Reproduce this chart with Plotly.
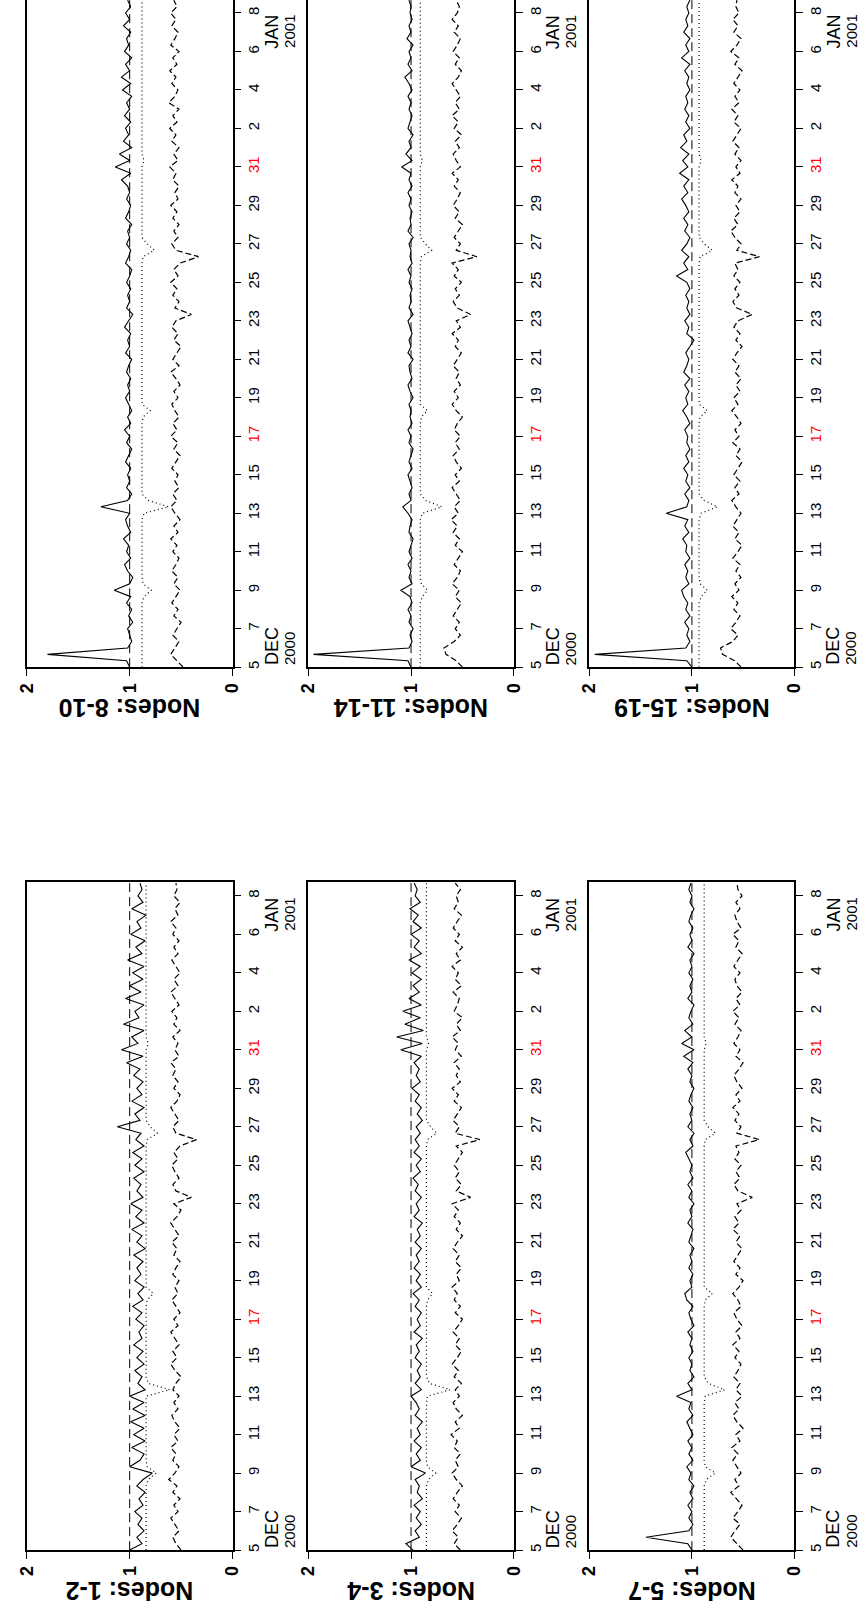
import plotly.graph_objects as go
import pandas as pd

# ---------------- data ----------------
# samples every 8 hours from 5 Dec 2000 00:00 (105 samples)
times = pd.date_range("2000-12-05 00:00", periods=105, freq="8h")

panel_titles = ["Nodes: 1-2", "Nodes: 3-4", "Nodes: 5-7",
                "Nodes: 8-10", "Nodes: 11-14", "Nodes: 15-19"]

ref_value = 1.0

tick_dates = ["2000-12-05", "2000-12-07", "2000-12-09", "2000-12-11", "2000-12-13",
              "2000-12-15", "2000-12-17", "2000-12-19", "2000-12-21", "2000-12-23",
              "2000-12-25", "2000-12-27", "2000-12-29", "2000-12-31", "2001-01-02",
              "2001-01-04", "2001-01-06", "2001-01-08"]
tick_labels = ["5", "7", "9", "11", "13", "15", "17", "19", "21", "23", "25", "27",
               "29", "31", "2", "4", "6", "8"]
red_labels = ["17", "31"]
value_ticks = [0, 1, 2]

# Nodes 1-2
p1_solid = [1.00,0.88,0.93,0.86,0.92,0.88,0.95,0.87,0.91,0.85,0.93,0.87,0.78,1.00,0.90,
            0.86,0.98,0.85,0.96,0.86,0.99,0.85,0.97,0.86,1.00,0.85,0.92,0.88,0.95,0.86,
            0.93,0.87,0.96,0.88,0.91,0.86,0.94,0.88,0.97,0.87,0.92,0.86,0.95,0.89,0.93,
            0.87,0.96,0.85,0.93,0.88,0.98,0.86,0.94,0.88,0.99,0.87,0.93,0.89,0.96,0.86,
            0.95,0.88,0.97,0.86,0.94,0.89,1.12,0.90,0.95,0.86,0.98,0.88,0.93,0.87,0.96,
            0.90,1.03,0.87,1.08,0.92,0.98,0.86,1.06,0.91,0.95,0.86,1.04,0.89,1.00,0.87,
            0.97,0.86,1.02,0.88,0.94,0.85,0.99,0.89,0.93,0.84,0.98,0.87,0.92,0.88,0.90]
p1_dot = [0.84,0.84,0.84,0.84,0.84,0.84,0.84,0.84,0.84,0.84,0.84,0.82,0.74,0.83,0.84,
          0.84,0.84,0.84,0.84,0.84,0.84,0.84,0.84,0.84,0.84,0.61,0.82,0.84,0.84,0.84,
          0.84,0.84,0.84,0.84,0.84,0.84,0.84,0.84,0.84,0.83,0.77,0.84,0.84,0.84,0.84,
          0.84,0.84,0.84,0.84,0.84,0.84,0.84,0.84,0.84,0.84,0.84,0.84,0.84,0.84,0.84,
          0.84,0.84,0.84,0.84,0.83,0.73,0.80,0.84,0.84,0.84,0.84,0.84,0.84,0.84,0.84,
          0.84,0.84,0.84,0.84,0.82,0.84,0.84,0.84,0.84,0.84,0.84,0.84,0.84,0.84,0.84,
          0.84,0.84,0.84,0.84,0.84,0.84,0.84,0.84,0.84,0.84,0.84,0.84,0.84,0.84,0.84]
p1_dash = [0.50,0.55,0.58,0.52,0.56,0.60,0.53,0.57,0.51,0.58,0.54,0.62,0.56,0.52,0.58,
           0.55,0.60,0.53,0.57,0.51,0.56,0.59,0.53,0.57,0.52,0.58,0.55,0.50,0.56,0.60,
           0.54,0.58,0.52,0.56,0.60,0.53,0.57,0.51,0.55,0.59,0.53,0.56,0.52,0.58,0.55,
           0.51,0.57,0.54,0.59,0.52,0.56,0.60,0.54,0.50,0.57,0.40,0.55,0.58,0.52,0.56,
           0.59,0.53,0.57,0.51,0.35,0.55,0.58,0.52,0.56,0.60,0.54,0.51,0.57,0.53,0.58,
           0.55,0.60,0.52,0.56,0.53,0.58,0.51,0.57,0.54,0.59,0.52,0.56,0.60,0.53,0.57,
           0.51,0.55,0.59,0.53,0.57,0.52,0.58,0.55,0.60,0.53,0.56,0.51,0.57,0.54,0.55]

# Nodes 3-4
p2_solid = [0.98,1.05,0.92,0.96,0.90,0.95,0.91,0.97,0.89,0.94,0.92,0.96,0.86,1.00,0.91,
            0.95,0.90,0.97,0.91,0.94,0.89,0.96,0.92,0.95,1.00,0.90,0.96,0.91,0.94,0.90,
            0.96,0.92,0.95,0.89,0.97,0.91,0.94,0.90,0.96,0.92,0.98,0.90,0.95,0.91,0.97,
            0.92,0.95,0.90,0.96,0.91,0.94,0.89,0.97,0.92,0.95,0.90,0.96,0.93,0.98,0.91,
            0.95,0.90,0.97,0.92,0.96,0.91,0.95,0.89,0.94,0.90,0.96,0.92,0.99,0.91,0.95,
            0.92,0.97,0.90,1.10,0.89,1.14,0.88,1.06,0.91,1.08,0.90,1.02,0.92,0.98,0.90,
            0.99,0.91,1.02,0.90,0.97,0.92,1.00,0.90,0.98,0.93,1.01,0.91,0.96,0.94,0.97]
p2_dot = [0.85,0.85,0.85,0.85,0.85,0.85,0.85,0.85,0.85,0.85,0.85,0.83,0.76,0.84,0.85,
          0.85,0.85,0.85,0.85,0.85,0.85,0.85,0.85,0.85,0.84,0.62,0.82,0.85,0.85,0.85,
          0.85,0.85,0.85,0.85,0.85,0.85,0.85,0.85,0.85,0.84,0.79,0.85,0.85,0.85,0.85,
          0.85,0.85,0.85,0.85,0.85,0.85,0.85,0.85,0.85,0.85,0.85,0.85,0.85,0.85,0.85,
          0.85,0.85,0.85,0.85,0.84,0.75,0.81,0.85,0.85,0.85,0.85,0.85,0.85,0.85,0.85,
          0.85,0.85,0.85,0.85,0.83,0.85,0.85,0.85,0.85,0.85,0.85,0.85,0.85,0.85,0.85,
          0.85,0.85,0.85,0.85,0.85,0.85,0.85,0.85,0.85,0.85,0.85,0.85,0.85,0.85,0.85]
p2_dash = [0.52,0.58,0.54,0.60,0.55,0.51,0.57,0.53,0.59,0.55,0.50,0.56,0.60,0.54,0.57,
           0.52,0.58,0.55,0.61,0.53,0.57,0.50,0.56,0.59,0.53,0.57,0.51,0.58,0.54,0.60,
           0.55,0.51,0.57,0.53,0.59,0.54,0.50,0.57,0.52,0.58,0.55,0.60,0.53,0.56,0.51,
           0.57,0.53,0.59,0.55,0.50,0.56,0.52,0.58,0.54,0.60,0.42,0.56,0.51,0.57,0.53,
           0.58,0.54,0.50,0.56,0.33,0.57,0.53,0.59,0.55,0.51,0.58,0.54,0.60,0.52,0.56,
           0.53,0.58,0.51,0.57,0.54,0.60,0.52,0.56,0.50,0.58,0.55,0.53,0.59,0.51,0.57,
           0.54,0.60,0.52,0.56,0.50,0.57,0.53,0.59,0.55,0.51,0.58,0.54,0.56,0.52,0.57]

# Nodes 5-7
p3_solid = [1.00,1.04,1.45,1.03,0.99,1.03,1.00,1.04,0.99,1.02,0.98,1.03,1.01,1.05,0.99,
            1.03,1.00,1.04,0.99,1.02,1.05,0.99,1.03,1.01,1.15,1.00,1.04,0.98,1.02,1.00,
            1.03,0.99,1.02,1.00,1.04,0.98,1.01,1.03,0.99,1.05,1.07,1.00,1.02,0.99,1.03,
            1.00,1.02,0.98,1.03,1.01,0.99,1.04,1.00,1.02,0.98,1.03,1.00,1.04,0.99,1.02,
            1.00,1.03,1.06,0.99,1.02,0.98,1.04,1.00,1.02,0.99,1.03,1.01,0.98,1.02,1.00,
            1.04,0.99,1.08,0.98,1.10,1.00,1.07,0.99,1.03,1.01,0.98,1.04,1.00,1.02,0.99,
            1.03,1.00,1.02,0.98,1.04,1.00,1.02,0.99,1.03,1.01,0.98,1.02,1.00,1.03,1.01]
p3_dot = [0.88,0.88,0.88,0.88,0.88,0.88,0.88,0.88,0.88,0.88,0.88,0.86,0.77,0.87,0.88,
          0.88,0.88,0.88,0.88,0.88,0.88,0.88,0.88,0.88,0.87,0.68,0.84,0.88,0.88,0.88,
          0.88,0.88,0.88,0.88,0.88,0.88,0.88,0.88,0.88,0.87,0.80,0.88,0.88,0.88,0.88,
          0.88,0.88,0.88,0.88,0.88,0.88,0.88,0.88,0.88,0.88,0.88,0.88,0.88,0.88,0.88,
          0.88,0.88,0.88,0.88,0.87,0.77,0.84,0.88,0.88,0.88,0.88,0.88,0.88,0.88,0.88,
          0.88,0.88,0.88,0.88,0.86,0.88,0.88,0.88,0.88,0.88,0.88,0.88,0.88,0.88,0.88,
          0.88,0.88,0.88,0.88,0.88,0.88,0.88,0.88,0.88,0.88,0.88,0.88,0.88,0.88,0.88]
p3_dash = [0.50,0.56,0.62,0.58,0.53,0.60,0.55,0.51,0.57,0.62,0.54,0.58,0.52,0.56,0.60,
           0.55,0.61,0.53,0.57,0.50,0.56,0.60,0.54,0.58,0.51,0.57,0.53,0.59,0.55,0.52,
           0.58,0.54,0.60,0.53,0.57,0.51,0.56,0.59,0.52,0.55,0.60,0.54,0.50,0.57,0.53,
           0.59,0.55,0.51,0.57,0.53,0.60,0.54,0.58,0.52,0.56,0.41,0.55,0.59,0.53,0.57,
           0.52,0.58,0.54,0.57,0.34,0.56,0.52,0.58,0.54,0.60,0.53,0.57,0.51,0.56,0.59,
           0.54,0.50,0.57,0.53,0.59,0.55,0.52,0.58,0.54,0.60,0.53,0.57,0.51,0.56,0.58,
           0.53,0.59,0.55,0.51,0.57,0.54,0.60,0.52,0.56,0.58,0.53,0.57,0.51,0.55,0.56]

# Nodes 8-10
p4_solid = [1.00,1.03,1.80,1.02,0.98,1.00,1.02,0.97,1.01,0.98,1.03,0.99,1.15,1.00,0.97,
            1.02,1.05,0.99,1.03,1.01,1.06,0.99,1.02,1.04,1.00,1.28,1.02,0.98,1.03,1.00,
            1.02,0.99,1.04,1.01,0.98,1.03,1.00,1.05,0.99,1.02,0.98,1.01,1.04,1.00,1.02,
            0.99,1.03,1.01,0.98,1.04,1.00,1.02,0.99,1.05,1.01,0.97,1.03,1.00,1.02,0.99,
            1.03,1.00,0.98,1.04,1.01,0.99,1.03,1.00,1.02,0.98,1.04,1.01,0.99,1.03,1.00,
            1.02,1.08,0.99,1.14,1.00,1.10,0.98,1.06,1.01,1.04,0.99,1.05,1.00,1.03,0.98,
            1.07,0.99,1.08,1.00,1.04,0.98,1.05,1.01,1.03,0.99,1.06,1.00,1.04,0.99,1.02]
p4_dot = [0.88,0.88,0.88,0.88,0.88,0.88,0.88,0.88,0.88,0.88,0.88,0.86,0.79,0.87,0.88,
          0.88,0.88,0.88,0.88,0.88,0.88,0.88,0.88,0.88,0.86,0.62,0.82,0.88,0.88,0.88,
          0.88,0.88,0.88,0.88,0.88,0.88,0.88,0.88,0.88,0.87,0.80,0.88,0.88,0.88,0.88,
          0.88,0.88,0.88,0.88,0.88,0.88,0.88,0.88,0.88,0.88,0.88,0.88,0.88,0.88,0.88,
          0.88,0.88,0.88,0.88,0.87,0.76,0.83,0.88,0.88,0.88,0.88,0.88,0.88,0.88,0.88,
          0.88,0.88,0.88,0.88,0.86,0.88,0.88,0.88,0.88,0.88,0.88,0.88,0.88,0.88,0.88,
          0.88,0.88,0.88,0.88,0.88,0.88,0.88,0.88,0.88,0.88,0.88,0.88,0.88,0.88,0.88]
p4_dash = [0.48,0.54,0.60,0.56,0.52,0.58,0.54,0.50,0.57,0.53,0.59,0.55,0.51,0.57,0.53,
           0.59,0.55,0.52,0.58,0.54,0.60,0.53,0.57,0.51,0.56,0.60,0.54,0.58,0.52,0.56,
           0.53,0.59,0.55,0.51,0.57,0.53,0.60,0.54,0.58,0.52,0.56,0.59,0.53,0.57,0.51,
           0.55,0.60,0.52,0.58,0.54,0.50,0.57,0.53,0.59,0.55,0.40,0.56,0.52,0.58,0.54,
           0.60,0.53,0.57,0.51,0.33,0.55,0.59,0.53,0.57,0.52,0.58,0.54,0.60,0.53,0.56,
           0.52,0.58,0.55,0.61,0.53,0.57,0.52,0.59,0.55,0.61,0.54,0.58,0.52,0.62,0.56,
           0.53,0.59,0.55,0.61,0.54,0.58,0.52,0.60,0.56,0.53,0.59,0.55,0.60,0.54,0.57]

# Nodes 11-14
p5_solid = [1.00,1.03,1.95,1.02,0.99,1.01,0.98,1.02,1.00,1.03,0.99,1.01,1.10,0.99,1.02,
            1.00,1.03,0.99,1.02,1.00,0.98,1.02,1.01,0.99,1.03,1.08,1.00,1.02,0.99,1.01,
            1.03,0.99,1.02,1.00,0.98,1.02,1.00,1.03,0.99,1.01,1.00,1.02,0.98,1.01,1.03,
            0.99,1.01,1.02,0.98,1.03,1.00,1.02,0.99,1.01,1.03,0.98,1.02,1.00,1.01,0.99,
            1.02,1.00,1.03,0.99,1.01,1.00,1.02,0.98,1.03,1.00,1.01,0.99,1.02,1.00,1.03,
            0.99,1.02,1.00,1.09,0.99,1.05,1.00,1.02,0.98,1.03,1.01,0.99,1.02,1.00,1.03,
            0.99,1.02,1.06,0.99,1.03,1.00,1.02,0.98,1.04,1.00,1.02,0.99,1.01,1.00,1.02]
p5_dot = [0.91,0.91,0.91,0.91,0.91,0.91,0.91,0.91,0.91,0.91,0.91,0.89,0.84,0.90,0.91,
          0.91,0.91,0.91,0.91,0.91,0.91,0.91,0.91,0.91,0.89,0.70,0.86,0.91,0.91,0.91,
          0.91,0.91,0.91,0.91,0.91,0.91,0.91,0.91,0.91,0.90,0.84,0.91,0.91,0.91,0.91,
          0.91,0.91,0.91,0.91,0.91,0.91,0.91,0.91,0.91,0.91,0.91,0.91,0.91,0.91,0.91,
          0.91,0.91,0.91,0.91,0.90,0.80,0.86,0.91,0.91,0.91,0.91,0.91,0.91,0.91,0.91,
          0.91,0.91,0.91,0.91,0.89,0.91,0.91,0.91,0.91,0.91,0.91,0.91,0.91,0.91,0.91,
          0.91,0.91,0.91,0.91,0.91,0.91,0.91,0.91,0.91,0.91,0.91,0.91,0.91,0.91,0.91]
p5_dash = [0.50,0.56,0.66,0.68,0.58,0.52,0.57,0.53,0.59,0.55,0.51,0.57,0.53,0.60,0.55,
           0.52,0.58,0.54,0.50,0.57,0.53,0.59,0.55,0.61,0.54,0.58,0.52,0.56,0.60,0.53,
           0.57,0.51,0.56,0.59,0.53,0.57,0.52,0.58,0.55,0.50,0.56,0.60,0.54,0.58,0.52,
           0.56,0.53,0.59,0.55,0.51,0.57,0.54,0.60,0.52,0.56,0.42,0.55,0.59,0.53,0.57,
           0.51,0.58,0.54,0.60,0.36,0.56,0.52,0.58,0.54,0.50,0.57,0.53,0.59,0.55,0.52,
           0.58,0.54,0.60,0.52,0.56,0.59,0.53,0.57,0.51,0.58,0.54,0.60,0.53,0.57,0.52,
           0.56,0.60,0.54,0.51,0.57,0.53,0.59,0.55,0.52,0.58,0.54,0.60,0.55,0.53,0.56]

# Nodes 15-19
p6_solid = [1.00,1.05,1.95,1.06,1.02,1.05,1.03,1.07,1.02,1.06,1.04,1.08,1.10,1.03,1.06,
            1.04,1.07,1.02,1.06,1.05,1.09,1.03,1.07,1.04,1.25,1.05,1.03,1.07,1.02,1.06,
            1.04,1.08,1.03,1.06,1.02,1.05,1.04,1.07,1.02,1.05,1.09,1.04,1.06,1.03,1.07,
            1.02,1.08,1.05,1.03,1.06,1.02,0.98,1.05,1.03,1.07,1.02,1.05,1.03,1.06,1.02,
            1.05,1.15,1.04,1.08,1.03,1.10,1.05,1.02,1.07,1.04,1.08,1.03,1.06,1.10,1.04,
            1.08,1.03,1.12,1.04,1.09,1.03,1.11,1.05,1.08,1.02,1.06,1.03,1.07,1.04,1.06,
            1.02,1.05,1.03,1.07,1.02,1.10,1.03,1.06,1.02,1.08,1.04,1.06,1.03,1.05,1.02]
p6_dot = [0.93,0.93,0.93,0.93,0.93,0.93,0.93,0.93,0.93,0.93,0.93,0.91,0.85,0.92,0.93,
          0.93,0.93,0.93,0.93,0.93,0.93,0.93,0.93,0.93,0.91,0.75,0.88,0.93,0.93,0.93,
          0.93,0.93,0.93,0.93,0.93,0.93,0.93,0.93,0.93,0.92,0.85,0.93,0.93,0.93,0.93,
          0.93,0.93,0.93,0.93,0.93,0.93,0.93,0.93,0.93,0.93,0.93,0.93,0.93,0.93,0.93,
          0.93,0.93,0.93,0.93,0.92,0.80,0.88,0.93,0.93,0.93,0.93,0.93,0.93,0.93,0.93,
          0.93,0.93,0.93,0.93,0.91,0.93,0.93,0.93,0.93,0.93,0.93,0.93,0.93,0.93,0.93,
          0.93,0.93,0.93,0.93,0.93,0.93,0.93,0.93,0.93,0.93,0.93,0.93,0.93,0.93,0.93]
p6_dash = [0.52,0.58,0.70,0.72,0.60,0.55,0.62,0.57,0.53,0.59,0.55,0.61,0.54,0.58,0.52,
           0.57,0.53,0.60,0.55,0.51,0.58,0.54,0.60,0.56,0.52,0.57,0.61,0.54,0.58,0.53,
           0.59,0.55,0.51,0.57,0.53,0.60,0.54,0.58,0.52,0.56,0.61,0.55,0.59,0.53,0.57,
           0.52,0.58,0.54,0.60,0.56,0.51,0.57,0.53,0.59,0.55,0.41,0.56,0.60,0.54,0.58,
           0.53,0.59,0.55,0.58,0.34,0.56,0.52,0.58,0.62,0.55,0.59,0.53,0.57,0.52,0.58,
           0.55,0.61,0.53,0.57,0.52,0.58,0.54,0.60,0.56,0.52,0.59,0.55,0.61,0.54,0.58,
           0.53,0.59,0.55,0.51,0.58,0.54,0.62,0.56,0.52,0.59,0.55,0.60,0.54,0.57,0.56]

solid_series = [p1_solid, p2_solid, p3_solid, p4_solid, p5_solid, p6_solid]
dot_series = [p1_dot, p2_dot, p3_dot, p4_dot, p5_dot, p6_dot]
dash_series = [p1_dash, p2_dash, p3_dash, p4_dash, p5_dash, p6_dash]

# ---------------- layout geometry (pixels) ----------------
W, H = 868, 1620
col_left = [17, 305, 593]
col_right = [228, 516, 803]
# rows: (bottom px, top px, px position of 8 Jan tick)
row_geom = [(1552, 883, 897), (668, 0, 13)]   # row 0 = lower, row 1 = upper
px_per_day = 655 / 34.0

FONT = "Liberation Sans, Arial, Helvetica, sans-serif"


def fx(px):
    return px / W


def fy(py):
    return 1 - py / H


fig = go.Figure()
annotations = []
layout = {}

tick_text = [('<span style="color:#ff0000">%s</span>' % t) if t in red_labels else t
             for t in tick_labels]

start = pd.Timestamp("2000-12-05 00:00")

for k in range(6):
    row = 0 if k < 3 else 1
    col = k % 3
    bottom, top, jan_y = row_geom[row]
    xl, xr = col_left[col], col_right[col]
    n = k + 1
    xa = "x" if n == 1 else "x%d" % n
    ya = "y" if n == 1 else "y%d" % n
    end = start + pd.Timedelta(days=(bottom - top) / px_per_day)

    fig.add_trace(go.Scatter(x=[ref_value, ref_value], y=[times[0], end], mode="lines",
                             line=dict(color="black", width=1, dash="9px,5px"),
                             xaxis=xa, yaxis=ya, showlegend=False, hoverinfo="skip"))
    fig.add_trace(go.Scatter(x=dot_series[k], y=times, mode="lines",
                             line=dict(color="black", width=1.2, dash="1px,3px"),
                             xaxis=xa, yaxis=ya, showlegend=False))
    fig.add_trace(go.Scatter(x=dash_series[k], y=times, mode="lines",
                             line=dict(color="black", width=1.2, dash="6px,3px"),
                             xaxis=xa, yaxis=ya, showlegend=False))
    fig.add_trace(go.Scatter(x=solid_series[k], y=times, mode="lines",
                             line=dict(color="black", width=1.1),
                             xaxis=xa, yaxis=ya, showlegend=False))

    xkey = "xaxis" if n == 1 else "xaxis%d" % n
    ykey = "yaxis" if n == 1 else "yaxis%d" % n
    layout[xkey] = dict(
        domain=[fx(xl), fx(xr)], anchor=ya, range=[2.003, -0.003],
        tickmode="array", tickvals=value_ticks, ticktext=[str(v) for v in value_ticks],
        tickangle=-90, ticks="outside", ticklen=7, tickwidth=1.4, tickcolor="black",
        tickfont=dict(family=FONT, size=18, color="black", weight="bold"),
        showline=True, linecolor="black", linewidth=1.5,
        mirror=(row == 0), showgrid=False, zeroline=False, fixedrange=True,
    )
    layout[ykey] = dict(
        domain=[fy(bottom), fy(top)], anchor=xa, side="right", type="date",
        range=[start, end],
        tickmode="array", tickvals=tick_dates, ticktext=tick_text,
        tickangle=-90, ticks="outside", ticklen=7, tickwidth=1.4, tickcolor="black",
        tickfont=dict(family=FONT, size=15, color="black"),
        showline=True, linecolor="black", linewidth=1.5, mirror=True,
        showgrid=False, zeroline=False, fixedrange=True,
    )

    # panel title (upside down)
    annotations.append(dict(text="<b>%s</b>" % panel_titles[k], textangle=180,
                            x=fx((xl + xr) / 2), y=fy(bottom + 41), xref="paper", yref="paper",
                            xanchor="center", yanchor="middle", showarrow=False,
                            font=dict(family=FONT, size=25, color="black")))
    # month / year labels
    for txt, dx, size, ypx, yanc in [("DEC", 40, 18, bottom - 1, "bottom"),
                                     ("2000", 58, 15, bottom - 1, "bottom"),
                                     ("JAN", 40, 18, jan_y + 1, "top"),
                                     ("2001", 58, 15, jan_y + 1, "top")]:
        annotations.append(dict(text=txt, textangle=-90, x=fx(xr + dx), y=fy(ypx),
                                xref="paper", yref="paper", xanchor="center", yanchor=yanc,
                                showarrow=False, borderpad=0,
                                font=dict(family=FONT, size=size, color="black")))

fig.update_layout(
    width=W, height=H, margin=dict(l=0, r=0, t=0, b=0),
    paper_bgcolor="white", plot_bgcolor="white",
    annotations=annotations, showlegend=False, **layout,
)

fig.write_html("out.html")
